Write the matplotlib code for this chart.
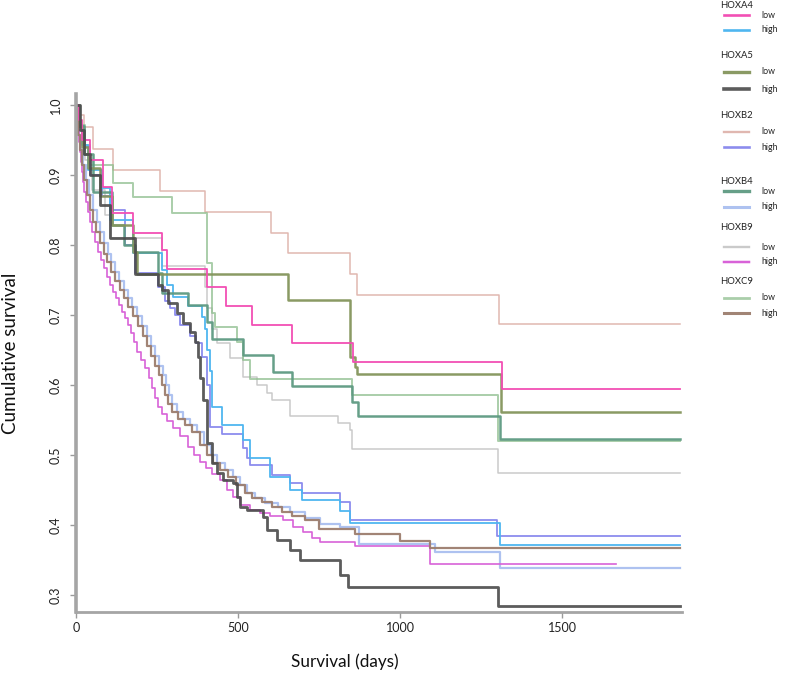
import numpy as np
import matplotlib.pyplot as plt
from matplotlib.lines import Line2D

plt.rcParams['font.family'] = ['Lato', 'DejaVu Sans']

# Kaplan-Meier curves (days, cumulative survival)
hoxa4_low_days = [0, 8, 20, 43, 83, 111, 176, 265, 281, 404, 463, 543, 667, 855, 1315, 1864]
hoxa4_low_surv = [1.0, 0.979, 0.95, 0.921, 0.883, 0.846, 0.817, 0.793, 0.766, 0.74, 0.713, 0.686, 0.66, 0.633, 0.594, 0.594]

hoxa4_high_days = [0, 6, 19, 37, 80, 105, 176, 265, 281, 299, 346, 389, 398, 404, 414, 420, 451, 515, 537, 599,
                   660, 697, 815, 846, 1307, 1864]
hoxa4_high_surv = [1.0, 0.971, 0.943, 0.907, 0.881, 0.836, 0.789, 0.764, 0.743, 0.726, 0.713, 0.697, 0.68, 0.65, 0.62,
                   0.569, 0.543, 0.521, 0.496, 0.469, 0.45, 0.436, 0.42, 0.403, 0.371, 0.371]

hoxa5_low_days = [0, 6, 19, 37, 74, 111, 176, 188, 654, 846, 861, 867, 1312, 1864]
hoxa5_low_surv = [1.0, 0.97, 0.94, 0.91, 0.87, 0.829, 0.79, 0.759, 0.721, 0.64, 0.625, 0.616, 0.561, 0.561]

hoxa5_high_days = [0, 12, 25, 43, 74, 105, 182, 253, 265, 284, 312, 330, 352, 367, 376, 383, 392, 404, 420, 435,
                   454, 485, 497, 506, 528, 577, 590, 620, 660, 691, 815, 840, 1302, 1864]
hoxa5_high_surv = [1.0, 0.964, 0.93, 0.9, 0.857, 0.81, 0.759, 0.743, 0.736, 0.717, 0.703, 0.689, 0.676, 0.661, 0.64,
                   0.61, 0.579, 0.517, 0.489, 0.474, 0.464, 0.46, 0.44, 0.426, 0.421, 0.411, 0.393, 0.379, 0.364,
                   0.35, 0.329, 0.311, 0.284, 0.284]

hoxb2_low_days = [0, 9, 25, 52, 114, 259, 398, 602, 654, 846, 867, 1305, 1864]
hoxb2_low_surv = [1.0, 0.986, 0.969, 0.937, 0.907, 0.877, 0.847, 0.817, 0.789, 0.759, 0.729, 0.687, 0.687]

hoxb2_high_days = [0, 9, 25, 43, 80, 105, 151, 182, 253, 275, 290, 306, 321, 352, 370, 389, 404, 414, 451, 515,
                   528, 537, 605, 660, 697, 815, 846, 1300, 1864]
hoxb2_high_surv = [1.0, 0.97, 0.94, 0.9, 0.87, 0.85, 0.8, 0.76, 0.74, 0.72, 0.71, 0.7, 0.685, 0.67, 0.66, 0.64,
                   0.6, 0.54, 0.53, 0.51, 0.495, 0.486, 0.471, 0.46, 0.446, 0.433, 0.407, 0.384, 0.384]

hoxb4_low_days = [0, 9, 25, 52, 111, 147, 182, 253, 265, 346, 404, 420, 515, 608, 667, 852, 870, 1308, 1864]
hoxb4_low_surv = [1.0, 0.97, 0.93, 0.875, 0.829, 0.8, 0.79, 0.76, 0.731, 0.714, 0.69, 0.665, 0.643, 0.619, 0.599,
                  0.576, 0.556, 0.523, 0.523]

hoxb4_high_days = [0, 6, 9, 15, 22, 31, 40, 52, 65, 74, 86, 99, 108, 120, 133, 148, 160, 173, 188, 204,
                   219, 231, 244, 256, 268, 278, 287, 296, 312, 330, 352, 373, 395, 417, 435, 460, 485, 506, 528, 552,
                   583, 623, 660, 707, 753, 815, 874, 1108, 1308, 1864]
hoxb4_high_surv = [1.0, 0.979, 0.957, 0.936, 0.914, 0.893, 0.871, 0.85, 0.833, 0.819, 0.803, 0.787, 0.776, 0.761,
                   0.749, 0.736, 0.724, 0.711, 0.699, 0.684, 0.67, 0.656, 0.641, 0.627, 0.614, 0.6, 0.586, 0.573,
                   0.561, 0.551, 0.543, 0.533, 0.514, 0.5, 0.489, 0.479, 0.469, 0.457, 0.446, 0.439, 0.431, 0.426,
                   0.419, 0.41, 0.401, 0.397, 0.373, 0.361, 0.339, 0.339]

hoxb9_low_days = [0, 12, 28, 49, 89, 105, 265, 398, 404, 420, 435, 475, 515, 558, 589, 605, 660, 809, 846, 852,
                  1302, 1864]
hoxb9_low_surv = [1.0, 0.964, 0.921, 0.879, 0.843, 0.81, 0.77, 0.74, 0.71, 0.68, 0.66, 0.639, 0.611, 0.6, 0.589,
                  0.579, 0.556, 0.546, 0.536, 0.509, 0.474, 0.474]

hoxb9_high_days = [0, 3, 6, 9, 12, 15, 19, 22, 25, 31, 37, 43, 49, 59, 68, 77, 86, 96, 105, 114,
                   123, 133, 142, 151, 160, 170, 179, 188, 201, 213, 225, 235, 244, 253, 265, 281, 299, 321, 346, 364,
                   383, 401, 420, 444, 466, 485, 506, 537, 568, 599, 639, 670, 701, 728, 753, 861, 1092, 1666]
hoxb9_high_surv = [1.0, 0.981, 0.964, 0.947, 0.933, 0.919, 0.904, 0.89, 0.876, 0.861, 0.847, 0.833, 0.819, 0.804,
                   0.79, 0.779, 0.767, 0.754, 0.743, 0.733, 0.724, 0.714, 0.704, 0.696, 0.686, 0.674, 0.661, 0.647,
                   0.636, 0.624, 0.61, 0.596, 0.581, 0.569, 0.559, 0.549, 0.539, 0.527, 0.511, 0.5, 0.49, 0.481,
                   0.473, 0.464, 0.45, 0.44, 0.429, 0.421, 0.417, 0.413, 0.407, 0.397, 0.39, 0.381, 0.376, 0.37,
                   0.344, 0.344]

hoxc9_low_days = [0, 12, 28, 43, 114, 176, 296, 404, 420, 429, 497, 515, 537, 852, 1302, 1864]
hoxc9_low_surv = [1.0, 0.971, 0.943, 0.914, 0.889, 0.869, 0.846, 0.774, 0.703, 0.683, 0.661, 0.636, 0.609, 0.586,
                  0.52, 0.52]

hoxc9_high_days = [0, 3, 6, 12, 19, 25, 34, 43, 52, 62, 74, 86, 96, 108, 120, 136, 148, 160, 176, 191,
                   207, 219, 231, 244, 256, 265, 275, 284, 296, 315, 336, 358, 383, 404, 423, 444, 469, 494, 522, 543,
                   574, 605, 636, 667, 707, 750, 861, 1000, 1092, 1864]
hoxc9_high_surv = [1.0, 0.979, 0.957, 0.936, 0.914, 0.893, 0.871, 0.85, 0.833, 0.819, 0.803, 0.787, 0.776, 0.761,
                   0.749, 0.736, 0.724, 0.711, 0.699, 0.684, 0.67, 0.656, 0.641, 0.627, 0.614, 0.6, 0.586, 0.573,
                   0.561, 0.551, 0.543, 0.533, 0.514, 0.5, 0.489, 0.479, 0.469, 0.457, 0.446, 0.439, 0.433, 0.426,
                   0.419, 0.413, 0.407, 0.394, 0.387, 0.377, 0.367, 0.367]

genes = ['HOXA4', 'HOXA5', 'HOXB2', 'HOXB4', 'HOXB9', 'HOXC9']
groups = ['low', 'high']

curves = {
    ('HOXA4', 'low'): (hoxa4_low_days, hoxa4_low_surv),
    ('HOXA4', 'high'): (hoxa4_high_days, hoxa4_high_surv),
    ('HOXA5', 'low'): (hoxa5_low_days, hoxa5_low_surv),
    ('HOXA5', 'high'): (hoxa5_high_days, hoxa5_high_surv),
    ('HOXB2', 'low'): (hoxb2_low_days, hoxb2_low_surv),
    ('HOXB2', 'high'): (hoxb2_high_days, hoxb2_high_surv),
    ('HOXB4', 'low'): (hoxb4_low_days, hoxb4_low_surv),
    ('HOXB4', 'high'): (hoxb4_high_days, hoxb4_high_surv),
    ('HOXB9', 'low'): (hoxb9_low_days, hoxb9_low_surv),
    ('HOXB9', 'high'): (hoxb9_high_days, hoxb9_high_surv),
    ('HOXC9', 'low'): (hoxc9_low_days, hoxc9_low_surv),
    ('HOXC9', 'high'): (hoxc9_high_days, hoxc9_high_surv),
}

# colour, line width, alpha
styles = {
    ('HOXA4', 'low'): ('#F24FB4', 1.3, 1.0),
    ('HOXA4', 'high'): ('#4FB6F0', 1.3, 1.0),
    ('HOXA5', 'low'): ('#84955C', 1.8, 0.95),
    ('HOXA5', 'high'): ('#4A4A4A', 2.0, 0.9),
    ('HOXB2', 'low'): ('#DDB0A8', 1.1, 0.9),
    ('HOXB2', 'high'): ('#8080EC', 1.3, 0.9),
    ('HOXB4', 'low'): ('#5E9A82', 1.8, 0.95),
    ('HOXB4', 'high'): ('#8CA8EA', 1.6, 0.7),
    ('HOXB9', 'low'): ('#BDBDBD', 1.1, 0.8),
    ('HOXB9', 'high'): ('#D862D8', 1.2, 1.0),
    ('HOXC9', 'low'): ('#8EBE8E', 1.4, 0.75),
    ('HOXC9', 'high'): ('#9C7D6E', 1.6, 0.95),
}

fig = plt.figure(figsize=(7.91, 6.76), dpi=100)
ax = fig.add_axes([76 / 791, 64 / 676, 606 / 791, 517.5 / 676])

draw_order = [('HOXB2', 'low'), ('HOXB9', 'low'), ('HOXC9', 'low'), ('HOXB4', 'high'), ('HOXB2', 'high'),
              ('HOXA4', 'high'), ('HOXB4', 'low'), ('HOXA5', 'low'), ('HOXB9', 'high'), ('HOXC9', 'high'),
              ('HOXA4', 'low'), ('HOXA5', 'high')]
lines = {}
for key in draw_order:
    d, s = curves[key]
    c, lw, a = styles[key]
    lines[key], = ax.plot(d, s, drawstyle='steps-post', color=c, lw=lw, alpha=a)

ax.set_xlim(0, 1870)
ax.set_ylim(0.2757, 1.015)
ax.set_xticks([0, 500, 1000, 1500])
ax.set_yticks([0.3, 0.4, 0.5, 0.6, 0.7, 0.8, 0.9, 1.0])
ax.set_yticklabels(['0.3', '0.4', '0.5', '0.6', '0.7', '0.8', '0.9', '1.0'], rotation=90, va='center')
ax.tick_params(axis='both', colors='#9A9A9A', labelcolor='#222222', labelsize=9, length=4, width=1)
ax.tick_params(axis='y', pad=6)

for side in ['top', 'right']:
    ax.spines[side].set_visible(False)
ax.spines['left'].set_color('#A5A5A5')
ax.spines['left'].set_linewidth(2.6)
ax.spines['bottom'].set_color('#A5A5A5')
ax.spines['bottom'].set_linewidth(2.0)

ax.set_xlabel('Survival (days)', fontsize=12.3, color='#111111')
ax.xaxis.set_label_coords(0.444, -0.08)
ax.set_ylabel('Cumulative survival', fontsize=13.5, color='#111111')
ax.yaxis.set_label_coords(-0.094, 0.5)

# legend, one block per gene
title_y = [5, 56, 116, 182, 228, 282]
entry_y = [(15, 30), (72, 89), (132, 147), (191, 207), (247, 262), (298, 313)]
W, H = 791, 676
for g, ty, ey in zip(genes, title_y, entry_y):
    fig.text(720 / W, 1 - ty / H, g, fontsize=6.8, color='#222222', ha='left', va='center')
    for grp, yy in zip(groups, ey):
        ln = lines[(g, grp)]
        fig.add_artist(Line2D([724 / W, 749 / W], [1 - yy / H, 1 - yy / H], color=ln.get_color(),
                              lw=ln.get_linewidth() + 0.6, alpha=ln.get_alpha()))
        fig.text(761 / W, 1 - yy / H, grp, fontsize=6.3, color='#222222', ha='left', va='center')

fig.savefig('out.png', dpi=100)
